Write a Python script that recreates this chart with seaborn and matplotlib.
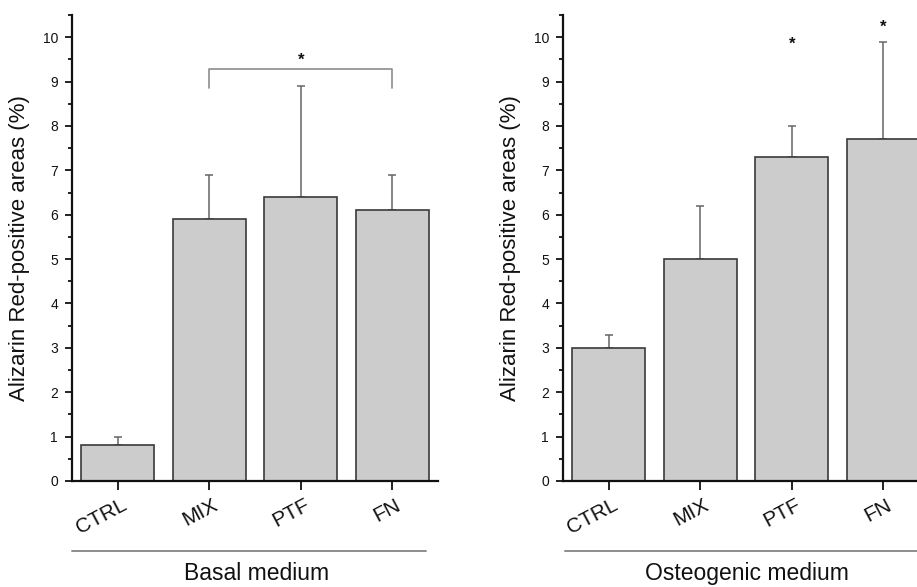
import numpy as np
import pandas as pd
import matplotlib
matplotlib.use("Agg")
import matplotlib.pyplot as plt
import matplotlib.transforms as mt
from matplotlib.ticker import MultipleLocator
import seaborn as sns

categories = ["CTRL", "MIX", "PTF", "FN"]
basal_mean = [0.8, 5.9, 6.4, 6.1]
basal_err = [0.2, 1.0, 2.5, 0.8]
osteo_mean = [3.0, 5.0, 7.3, 7.7]
osteo_err = [0.3, 1.2, 0.7, 2.2]
group_labels = ["Basal medium", "Osteogenic medium"]
ylabel = "Alizarin Red-positive areas (%)"
yticks = list(range(0, 11))

sns.set_style("ticks")
plt.rcParams["font.family"] = ["Liberation Sans", "DejaVu Sans"]

W, H = 917, 587
fig = plt.figure(figsize=(W / 100, H / 100), dpi=100)
ax_w = 366 / W
ax_h = 466 / H
ax_b = 1 - 481 / H
ax1 = fig.add_axes([72 / W, ax_b, ax_w, ax_h])
ax2 = fig.add_axes([563 / W, ax_b, ax_w, ax_h])

bar_fill = "#cccccc"
bar_edge = "#3a3a3a"
err_col = "#666666"
bracket_col = "#8c8c8c"


def panel(ax, means, errs, glabel):
    df = pd.DataFrame({"cat": categories, "val": means})
    sns.barplot(data=df, x="cat", y="val", ax=ax, color=bar_fill,
                edgecolor=bar_edge, linewidth=1.2, width=0.8, saturation=1,
                errorbar=None, zorder=2)
    x = np.arange(len(categories))
    ax.errorbar(x, means, yerr=[np.zeros(len(means)), errs], fmt="none",
                ecolor=err_col, elinewidth=1.1, capsize=3, capthick=1.1,
                zorder=1)
    ax.set_xlim(-0.5, 3.5)
    ax.set_ylim(0, 10.5)
    ax.set_yticks(yticks)
    ax.yaxis.set_minor_locator(MultipleLocator(0.5))
    ax.set_yticklabels([str(t) for t in yticks], fontsize=10)
    ax.tick_params(axis="y", which="major", length=5, width=1.3, pad=5,
                   direction="out", colors="#111111")
    ax.tick_params(axis="y", which="minor", length=3, width=1.3,
                   direction="out", colors="#111111")
    ax.tick_params(axis="x", which="major", length=6.5, width=1.3, pad=4,
                   direction="out", colors="#111111")
    ax.set_xticks(x)
    ax.set_xticklabels(categories, fontsize=15, rotation=28, ha="right",
                       va="top", rotation_mode="anchor")
    off = mt.ScaledTranslation(3 / 100, 0, fig.dpi_scale_trans)
    for lab in ax.get_xticklabels():
        lab.set_transform(lab.get_transform() + off)
    for s in ["top", "right"]:
        ax.spines[s].set_visible(False)
    for s in ["left", "bottom"]:
        ax.spines[s].set_linewidth(1.6)
        ax.spines[s].set_color("#111111")
    ax.set_xlabel("")
    ax.set_ylabel(ylabel, fontsize=16, color="#111111")
    ax.yaxis.set_label_coords(-0.115, 0.5)
    ax.text(0.503, -0.2124, glabel, transform=ax.transAxes, ha="center",
            va="baseline", fontsize=16.5, color="#111111", clip_on=False)


panel(ax1, basal_mean, basal_err, group_labels[0])
panel(ax2, osteo_mean, osteo_err, group_labels[1])

# group underline
ax1.plot([0, 0.967], [-0.150, -0.150], transform=ax1.transAxes,
         color=bracket_col, lw=1.4, clip_on=False)
ax2.plot([0.005, 1.0], [-0.150, -0.150], transform=ax2.transAxes,
         color=bracket_col, lw=1.4, clip_on=False)

# significance bracket (basal MIX vs FN)
bx = [1, 1, 3, 3]
by = [8.85, 9.28, 9.28, 8.85]
ax1.plot(bx, by, color=bracket_col, lw=1.2, clip_on=False)
ax1.text(2, 9.38, "*", ha="center", va="baseline", fontsize=12,
         fontweight="bold", color="#111111")

# osteogenic stars
star_x = [2, 3]
star_y = [9.75, 10.12]
for sx, sy in zip(star_x, star_y):
    ax2.text(sx, sy, "*", ha="center", va="baseline", fontsize=12,
             fontweight="bold", color="#111111", clip_on=False)

fig.savefig("out.png", dpi=100)
